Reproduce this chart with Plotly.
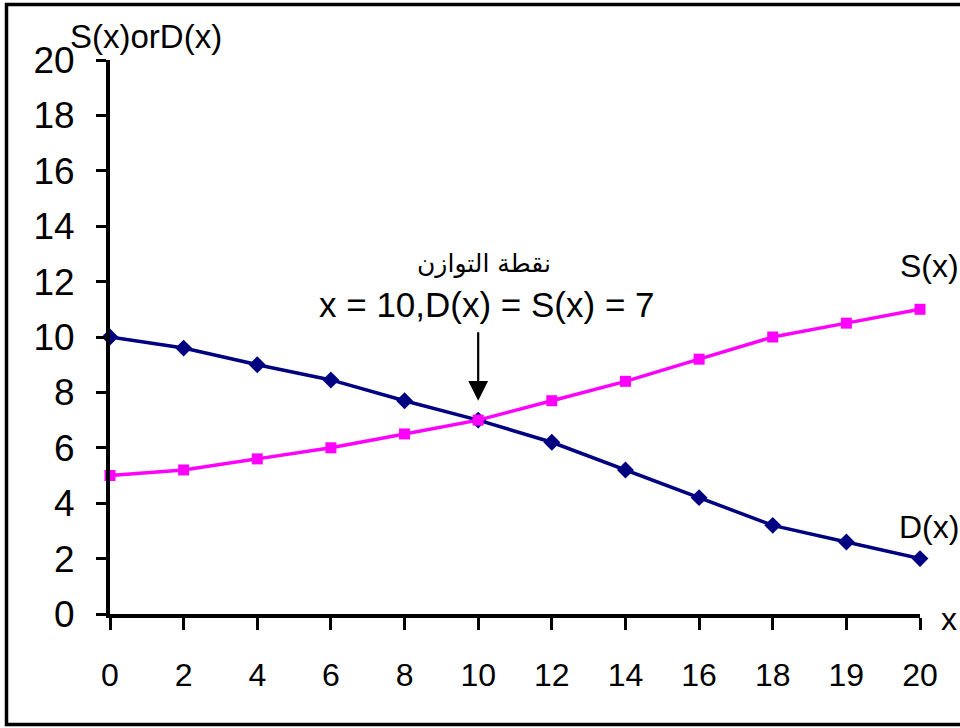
import plotly.graph_objects as go

# Supply and demand schedules
x_labels = ["0", "2", "4", "6", "8", "10", "12", "14", "16", "18", "19", "20"]
demand = [10, 9.6, 9, 8.45, 7.7, 7, 6.2, 5.2, 4.2, 3.2, 2.6, 2]
supply = [5, 5.2, 5.6, 6, 6.5, 7, 7.7, 8.4, 9.2, 10, 10.5, 11]
y_ticks = [0, 2, 4, 6, 8, 10, 12, 14, 16, 18, 20]
eq_x = "10"
eq_level = 7

W, H = 960, 728
L, R, T, B = 110, 40, 60, 114
PW, PH = W - L - R, H - T - B


def px(p):
    return (p - L) / PW


def py(q):
    return (H - B - q) / PH


fig = go.Figure()
fig.add_trace(go.Scatter(
    x=x_labels, y=demand, mode="lines+markers", name="D(x)",
    line=dict(color="#000080", width=3.5),
    marker=dict(symbol="diamond", size=13, color="#000080"),
    cliponaxis=False,
))
fig.add_trace(go.Scatter(
    x=x_labels, y=supply, mode="lines+markers", name="S(x)",
    line=dict(color="#FF00FF", width=3.5),
    marker=dict(symbol="square", size=11, color="#FF00FF"),
    cliponaxis=False,
))

fig.update_layout(
    width=W, height=H,
    margin=dict(l=L, r=R, t=T, b=B),
    paper_bgcolor="white", plot_bgcolor="white",
    showlegend=False,
    font=dict(family="Liberation Sans, Arial, sans-serif", color="black"),
    xaxis=dict(
        type="category", categoryorder="array", categoryarray=x_labels,
        range=[0, len(x_labels) - 1],
        showline=True, linecolor="black", linewidth=4,
        ticks="outside", ticklen=12, tickwidth=3, tickcolor="black",
        showgrid=False, zeroline=False,
        tickfont=dict(family="Liberation Sans Narrow, Liberation Sans, sans-serif", size=32),
        ticklabelstandoff=18,
    ),
    yaxis=dict(
        range=[0, 20], tickvals=y_ticks,
        showline=True, linecolor="black", linewidth=4,
        ticks="outside", ticklen=10, tickwidth=3, tickcolor="black",
        showgrid=False, zeroline=False,
        tickfont=dict(size=37),
        ticklabelstandoff=14,
    ),
)

# Frame around the chart (open on the right)
fig.add_shape(type="rect", xref="paper", yref="paper",
              x0=px(6.5), x1=px(1010), y0=py(724.5), y1=py(4.5),
              line=dict(color="black", width=3.5), fillcolor="rgba(0,0,0,0)")


def label(text, cx, cy, size, family=None):
    f = dict(size=size)
    if family:
        f["family"] = family
    fig.add_annotation(text=text, xref="paper", yref="paper",
                       x=px(cx), y=py(cy), xanchor="center", yanchor="middle",
                       showarrow=False, font=f)


# Axis titles and curve labels
label("S(x)orD(x)", 146, 36, 33)
label("x", 949, 619, 32)
label("S(x)", 929, 266, 32)
label("D(x)", 929, 527, 32)

# Equilibrium point callout
label("نقطة التوازن", 484, 263, 25, "DejaVu Sans, sans-serif")
label("x = 10,D(x) = S(x) = 7", 487, 304, 35)
fig.add_annotation(x=x_labels.index(eq_x), y=eq_level + 0.7, xref="x", yref="y",
                   text="", showarrow=True, ax=0, ay=-70, arrowhead=2,
                   arrowsize=1.8, arrowwidth=2.2, arrowcolor="black")

fig.write_html("out.html")
